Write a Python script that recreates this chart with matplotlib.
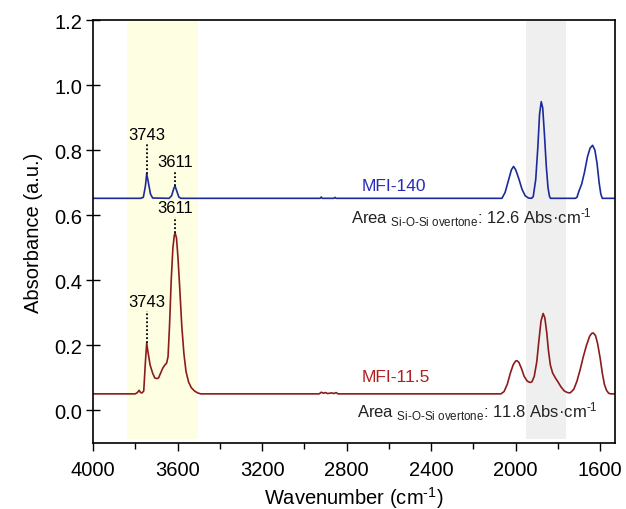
import numpy as np
import matplotlib
matplotlib.use('Agg')
import matplotlib.pyplot as plt
from matplotlib.ticker import MultipleLocator

plt.rcParams['font.family'] = ['Liberation Sans', 'DejaVu Sans']
plt.rcParams['mathtext.fontset'] = 'custom'
plt.rcParams['mathtext.rm'] = 'Liberation Sans'
plt.rcParams['mathtext.it'] = 'Liberation Sans'

# MFI-140 spectrum, points
wn_140 = [4000, 3775, 3762, 3752, 3746, 3738, 3728, 3718, 3640, 3628, 3618, 3612, 3604, 3594, 3585,
          2925, 2920, 2915, 2860, 2855, 2850,
          2065, 2050, 2035, 2020, 2010, 2000, 1985, 1970, 1955, 1940, 1925,
          1917, 1905, 1895, 1887, 1879, 1872, 1864, 1855, 1847, 1840, 1835,
          1718, 1710, 1700, 1688, 1675, 1660, 1648, 1636, 1625, 1615, 1605, 1597, 1590, 1530]
abs_140 = [0.652, 0.652, 0.655, 0.690, 0.728, 0.700, 0.665, 0.653, 0.652, 0.660, 0.682, 0.690, 0.675, 0.656, 0.652,
           0.652, 0.656, 0.652, 0.652, 0.655, 0.652,
           0.652, 0.670, 0.705, 0.740, 0.750, 0.740, 0.712, 0.680, 0.660, 0.653, 0.652,
           0.657, 0.710, 0.810, 0.910, 0.949, 0.930, 0.850, 0.750, 0.685, 0.658, 0.652,
           0.652, 0.655, 0.675, 0.695, 0.730, 0.780, 0.806, 0.815, 0.800, 0.760, 0.700, 0.665, 0.652, 0.652]

# MFI-11.5 spectrum
wn_115 = [4000, 3800, 3790, 3782, 3775, 3768, 3760, 3752, 3746, 3740, 3730, 3718, 3708, 3698, 3690, 3680,
          3670, 3660, 3652, 3645, 3638, 3630, 3622, 3615, 3611, 3605, 3598, 3590, 3580, 3570, 3560, 3548,
          3535, 3520, 3505, 3490,
          2930, 2920, 2910, 2900, 2890, 2870, 2860, 2850, 2840,
          2070, 2055, 2040, 2025, 2012, 2000, 1994, 1985, 1972, 1960, 1945, 1932, 1923, 1912, 1900, 1890,
          1880, 1870, 1862, 1853, 1845, 1836, 1825, 1812, 1800, 1785, 1770, 1755, 1742, 1725, 1710, 1695,
          1680, 1665, 1650, 1640, 1632, 1622, 1612, 1600, 1590, 1580, 1570, 1560, 1550, 1530]
abs_115 = [0.051, 0.051, 0.055, 0.062, 0.055, 0.054, 0.060, 0.150, 0.207, 0.180, 0.140, 0.115, 0.100, 0.098, 0.100, 0.115,
           0.130, 0.140, 0.145, 0.165, 0.260, 0.400, 0.500, 0.540, 0.544, 0.530, 0.470, 0.380, 0.260, 0.175, 0.120, 0.088,
           0.070, 0.060, 0.054, 0.051,
           0.051, 0.056, 0.053, 0.055, 0.052, 0.054, 0.052, 0.055, 0.051,
           0.051, 0.058, 0.080, 0.115, 0.140, 0.152, 0.153, 0.148, 0.128, 0.105, 0.090, 0.086, 0.088, 0.105, 0.150, 0.215,
           0.275, 0.298, 0.285, 0.240, 0.185, 0.140, 0.115, 0.100, 0.088, 0.072, 0.060, 0.055, 0.054, 0.065, 0.090, 0.125,
           0.165, 0.200, 0.228, 0.237, 0.238, 0.230, 0.205, 0.160, 0.115, 0.080, 0.062, 0.053, 0.051, 0.051]

# peak marks: (position, peak top, line top, label)
marks_140 = [(3746, 0.728, 0.820, '3743'), (3612, 0.690, 0.735, '3611')]
marks_115 = [(3746, 0.207, 0.305, '3743'), (3612, 0.544, 0.596, '3611')]

bands = [(3840, 3505, '#fefee2'), (1952, 1760, '#efefef')]

fig = plt.figure(figsize=(6.26, 5.10), dpi=100)
ax = fig.add_axes([0.1486, 0.1294, 0.8338, 0.8294])

for lo, hi, c in bands:
    ax.axvspan(lo, hi, ymin=0.01, ymax=0.998, color=c, lw=0, zorder=0)

ax.plot(wn_140, abs_140, color='#1c2a9c', lw=1.2)
ax.plot(wn_115, abs_115, color='#8b1c1c', lw=1.2)

for pos, top, ltop, lab in marks_140 + marks_115:
    ax.plot([pos, pos], [top, ltop], ls=(0, (1, 1.2)), color='black', lw=1.3)
    ax.text(pos, ltop + 0.006, lab, ha='center', va='bottom', fontsize=12)

ax.text(2731, 0.692, 'MFI-140', color='#2a2ab8', fontsize=12.5, va='center')
ax.text(2731, 0.105, 'MFI-11.5', color='#b02020', fontsize=12.5, va='center')

ax.text(2780, 0.596, r'Area $_{\mathrm{Si‐O‐Si\ overtone}}$: 12.6 Abs·cm$^{\mathrm{‐1}}$',
        fontsize=12, va='center', color='#222222')
ax.text(2752, -0.002, r'Area $_{\mathrm{Si‐O‐Si\ overtone}}$: 11.8 Abs·cm$^{\mathrm{‐1}}$',
        fontsize=12, va='center', color='#222222')

ax.set_xlim(4000, 1530)
ax.set_ylim(-0.1, 1.2)
ax.xaxis.set_major_locator(MultipleLocator(400))
ax.xaxis.set_minor_locator(MultipleLocator(200))
ax.yaxis.set_major_locator(MultipleLocator(0.2))
ax.yaxis.set_major_formatter(matplotlib.ticker.FormatStrFormatter('%.1f'))
ax.tick_params(axis='x', direction='out', length=6, width=1, labelsize=14.5, pad=6)
ax.tick_params(axis='x', which='minor', direction='out', length=4, width=1)
ax.tick_params(axis='y', direction='inout', length=10, width=1, labelsize=14.5, pad=3)
for s in ax.spines.values():
    s.set_linewidth(1.2)

ax.set_xlabel('Wavenumber (cm$^{\\mathrm{‐1}}$)', fontsize=14.5)
ax.set_ylabel('Absorbance (a.u.)', fontsize=14.5, labelpad=8)

fig.savefig('out.png', dpi=100)
